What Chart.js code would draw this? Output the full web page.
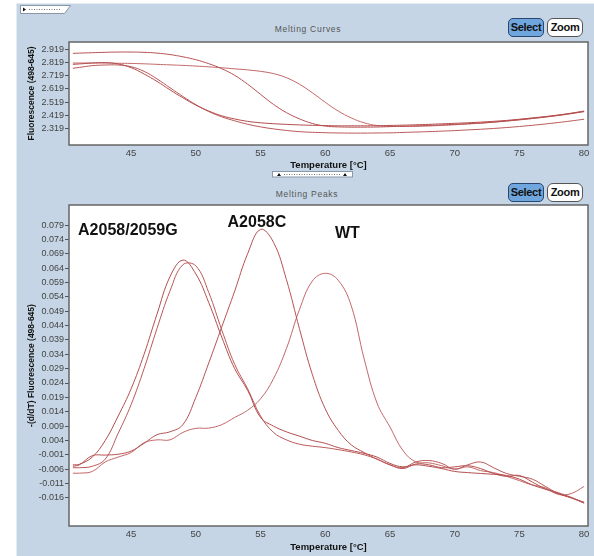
<!DOCTYPE html>
<html>
<head>
<meta charset="utf-8">
<script src="https://cdn.jsdelivr.net/npm/chart.js@4.4.1/dist/chart.umd.min.js"></script>
<style>
  body { margin: 0; width: 594px; height: 556px; overflow: hidden; position: relative; background: #fff;
         font-family: "Liberation Sans", Arial, sans-serif; }
  #panel { position: absolute; left: 16px; top: 3px; width: 578px; height: 553px; background: #c5d5e5;
           border-left: 1px solid #e4ebf2; border-top: 1px solid #e4ebf2; box-sizing: border-box; }
  canvas { position: absolute; left: 16px; }
  #curves { top: 0; }
  #peaks { top: 175px; }
  .title { position: absolute; font-size: 8.5px; letter-spacing: 0.7px; color: #555; width: 120px; text-align: center; }
  .btn { position: absolute; width: 36px; height: 19px; box-sizing: border-box; font-weight: bold;
         font-size: 11px; line-height: 17px; text-align: center; color: #111; letter-spacing: -0.3px; }
  .sel { background: #6fa6dd; border: 1px solid #29466f; border-radius: 5px; }
  .zoom { background: #fff; border: 1px solid #555; border-radius: 6px; }
  svg { position: absolute; }
</style>
</head>
<body>
<div id="panel"></div>
<svg style="left:20px;top:5px" width="52" height="10">
  <polygon points="0.5,0.5 50.5,0.5 44.5,8.5 0.5,8.5" fill="#fff" stroke="#8a97a6"/>
  <polygon points="3,2.5 6,4.5 3,6.5" fill="#111"/>
  <line x1="9" y1="4.5" x2="40" y2="4.5" stroke="#777" stroke-dasharray="1,1.5"/>
</svg>
<svg style="left:272px;top:171px" width="82" height="7">
  <rect x="0.5" y="0.5" width="80" height="5.5" fill="#fff" stroke="#8a97a6"/>
  <polygon points="5,5 7,2 9,5" fill="#111"/>
  <polygon points="71,5 73,2 75,5" fill="#111"/>
  <line x1="12" y1="3.5" x2="68" y2="3.5" stroke="#777" stroke-dasharray="1,1.5"/>
</svg>
<div class="title" style="left:248px;top:24px">Melting Curves</div>
<div class="title" style="left:247px;top:189px">Melting Peaks</div>
<div class="btn sel" style="left:508px;top:18px">Select</div>
<div class="btn zoom" style="left:547px;top:18px">Zoom</div>
<div class="btn sel" style="left:508px;top:183px">Select</div>
<div class="btn zoom" style="left:547px;top:183px">Zoom</div>
<canvas id="curves" width="578" height="175"></canvas>
<canvas id="peaks" width="578" height="381"></canvas>
<script>
const temps = [40.5, 41, 42, 43, 44, 45, 46, 47, 48, 49, 50, 51, 52, 53, 54, 55, 56, 57, 58, 59, 60,
  61, 62, 63, 64, 65, 66, 67, 68, 69, 70, 71, 72, 73, 74, 75, 76, 77, 78, 79, 80];

// Melting curves: fluorescence (498-645)
const meltG1 = [2.805, 2.808, 2.815, 2.818, 2.808, 2.78, 2.732, 2.676, 2.612, 2.552, 2.497, 2.452, 2.416,
  2.392, 2.374, 2.363, 2.356, 2.351, 2.347, 2.344, 2.342, 2.34, 2.34, 2.34, 2.341, 2.343, 2.345, 2.348,
  2.351, 2.355, 2.359, 2.363, 2.368, 2.374, 2.381, 2.39, 2.4, 2.41, 2.422, 2.435, 2.45];
const meltG2 = [2.775, 2.782, 2.795, 2.8, 2.8, 2.787, 2.752, 2.695, 2.628, 2.562, 2.5, 2.448, 2.408,
  2.378, 2.352, 2.332, 2.317, 2.305, 2.296, 2.291, 2.288, 2.286, 2.285, 2.285, 2.286, 2.287, 2.29, 2.293,
  2.296, 2.3, 2.304, 2.309, 2.314, 2.32, 2.327, 2.335, 2.344, 2.354, 2.365, 2.377, 2.39];
const meltC = [2.888, 2.89, 2.893, 2.896, 2.898, 2.898, 2.896, 2.89, 2.879, 2.862, 2.84, 2.81, 2.772,
  2.722, 2.655, 2.578, 2.502, 2.44, 2.393, 2.358, 2.338, 2.332, 2.33, 2.33, 2.331, 2.334, 2.337, 2.34,
  2.343, 2.347, 2.351, 2.356, 2.361, 2.368, 2.376, 2.385, 2.395, 2.406, 2.418, 2.432, 2.447];
const meltWT = [2.815, 2.815, 2.815, 2.815, 2.813, 2.812, 2.809, 2.805, 2.801, 2.797, 2.792, 2.786, 2.779,
  2.771, 2.763, 2.752, 2.735, 2.704, 2.655, 2.59, 2.518, 2.452, 2.4, 2.363, 2.342, 2.336, 2.335, 2.336,
  2.339, 2.343, 2.348, 2.354, 2.36, 2.368, 2.377, 2.387, 2.397, 2.408, 2.42, 2.435, 2.452];

// Melting peaks: -(d/dT) fluorescence
const peakG1 = [-0.0045, -0.0043, -0.0018, 0.004, 0.0125, 0.022, 0.034, 0.048, 0.061, 0.0668, 0.062, 0.052,
  0.040, 0.029, 0.0215, 0.012, 0.009, 0.007, 0.0055, 0.004, 0.003, 0.0015, 0.0005, -0.0005, -0.0018, -0.004,
  -0.0052, -0.0045, -0.005, -0.0058, -0.0068, -0.0072, -0.0075, -0.0078, -0.0082, -0.0095, -0.0115, -0.013,
  -0.0145, -0.016, -0.0178];
const peakG2 = [-0.0055, -0.0055, -0.005, -0.0025, 0.0065, 0.0165, 0.029, 0.043, 0.056, 0.0652, 0.0648,
  0.0555, 0.0425, 0.0305, 0.022, 0.0125, 0.0068, 0.0042, 0.0027, 0.002, 0.0015, 0.0008, 0.0, -0.001, -0.0025,
  -0.0045, -0.0055, -0.0035, -0.003, -0.004, -0.006, -0.0045, -0.0035, -0.0055, -0.0075, -0.0085, -0.0095,
  -0.012, -0.0145, -0.016, -0.0175];
const peakC = [-0.005, -0.0045, -0.0013, -0.0011, -0.0008, 0.0003, 0.003, 0.006, 0.007, 0.0095, 0.019, 0.031,
  0.0435, 0.056, 0.069, 0.0775, 0.073, 0.06, 0.043, 0.027, 0.015, 0.0075, 0.0025, -0.0002, -0.0025, -0.0045,
  -0.0058, -0.0042, -0.0045, -0.0055, -0.0052, -0.0048, -0.0058, -0.0075, -0.0085, -0.0082, -0.0105, -0.0128,
  -0.0142, -0.0158, -0.0178];
const peakWT = [-0.0074, -0.0074, -0.0068, -0.0035, -0.0018, -0.0002, 0.0032, 0.0042, 0.0042, 0.0068, 0.0082,
  0.0083, 0.0095, 0.012, 0.0145, 0.0185, 0.0255, 0.036, 0.0495, 0.0595, 0.0622, 0.0598, 0.051, 0.0325, 0.017,
  0.0087, 0.0005, -0.0035, -0.0038, -0.0048, -0.006, -0.0052, -0.0065, -0.0072, -0.0085, -0.01, -0.0115,
  -0.0125, -0.0148, -0.0145, -0.012];

const xTicks = [45, 50, 55, 60, 65, 70, 75, 80];
const meltTicks = [2.319, 2.419, 2.519, 2.619, 2.719, 2.819, 2.919];
const peakTicks = [-0.016, -0.011, -0.006, -0.001, 0.004, 0.009, 0.014, 0.019, 0.024, 0.029, 0.034, 0.039,
  0.044, 0.049, 0.054, 0.059, 0.064, 0.069, 0.074, 0.079];

// labels over the peaks (text, left temperature, baseline value)
const peakLabels = ['A2058/2059G', 'A2058C', 'WT'];
const peakLabelT = [40.9, 52.45, 60.75];
const peakLabelV = [0.0755, 0.0783, 0.0745];

const FONT = '"Liberation Sans", Arial, sans-serif';
const lineColors = ['#b44e4e', '#bb5858', '#b85252', '#c46868'];

const frame = {
  id: 'frame',
  beforeDraw(chart) {
    const a = chart.chartArea, ctx = chart.ctx;
    ctx.save();
    ctx.fillStyle = '#fff';
    ctx.fillRect(a.left, a.top, a.right - a.left, a.bottom - a.top);
    ctx.restore();
  },
  afterDraw(chart) {
    const a = chart.chartArea, ctx = chart.ctx;
    ctx.save();
    ctx.strokeStyle = '#666';
    ctx.lineWidth = 1.5;
    ctx.strokeRect(a.left, a.top, a.right - a.left, a.bottom - a.top);
    const labels = chart.options.plugins.frame.labels;
    if (labels) {
      ctx.fillStyle = '#111';
      ctx.font = 'bold 16px ' + FONT;
      ctx.textBaseline = 'alphabetic';
      labels.forEach((txt, i) => {
        ctx.fillText(txt, chart.scales.x.getPixelForValue(peakLabelT[i]),
          chart.scales.y.getPixelForValue(peakLabelV[i]));
      });
    }
    ctx.restore();
  }
};

function series(vals) {
  return temps.map((t, i) => ({ x: t, y: vals[i] }));
}

function makeChart(id, sets, yMin, yMax, yTicks, yTitle, padTop, titlePad, labels) {
  new Chart(document.getElementById(id), {
    type: 'line',
    data: {
      datasets: sets.map((vals, i) => ({
        data: series(vals),
        borderColor: lineColors[i],
        borderWidth: 1,
        pointRadius: 0,
        tension: 0.4,
        fill: false
      }))
    },
    plugins: [frame],
    options: {
      responsive: false,
      animation: false,
      layout: { padding: { top: padTop, right: 6, left: 0, bottom: 0 } },
      plugins: { legend: { display: false }, tooltip: { enabled: false }, frame: { labels: labels } },
      scales: {
        x: {
          type: 'linear', min: 40.2, max: 80.3,
          afterBuildTicks: axis => { axis.ticks = xTicks.map(v => ({ value: v })); },
          afterFit: axis => { axis.height = 30; },
          grid: { display: false, drawTicks: false },
          border: { display: false },
          ticks: { color: '#444', padding: 3, maxRotation: 0, font: { family: FONT, size: 9.5 } },
          title: { display: true, text: 'Temperature [°C]', color: '#111', padding: { top: 0, bottom: titlePad },
                   font: { family: FONT, size: 9.5, weight: 'bold' } }
        },
        y: {
          type: 'linear', min: yMin, max: yMax,
          afterBuildTicks: axis => { axis.ticks = yTicks.map(v => ({ value: v })); },
          afterFit: axis => { axis.width = 53; },
          grid: { drawOnChartArea: false, drawTicks: true, tickLength: 4, color: '#555' },
          border: { display: false },
          ticks: { color: '#444', padding: 1, font: { family: FONT, size: 9 },
                   callback: v => v.toFixed(3) },
          title: { display: true, text: yTitle, color: '#111', padding: { top: 11, bottom: 0 },
                   font: { family: FONT, size: 8.5, weight: 'bold' } }
        }
      }
    }
  });
}

makeChart('curves', [meltG1, meltG2, meltC, meltWT], 2.195, 2.974, meltTicks,
  'Fluorescence (498-645)', 42, 4, null);
makeChart('peaks', [peakG1, peakG2, peakC, peakWT], -0.0258, 0.086, peakTicks,
  '-(d/dT) Fluorescence (498-645)', 30, 3, peakLabels);
</script>
</body>
</html>
